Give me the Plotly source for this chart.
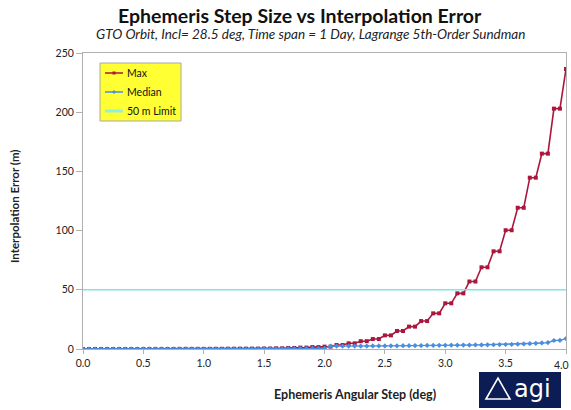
import plotly.graph_objects as go

# ---- data ----
step_deg = [0.0, 0.05, 0.1, 0.15, 0.2, 0.25, 0.3, 0.35, 0.4, 0.45,
            0.5, 0.55, 0.6, 0.65, 0.7, 0.75, 0.8, 0.85, 0.9, 0.95,
            1.0, 1.05, 1.1, 1.15, 1.2, 1.25, 1.3, 1.35, 1.4, 1.45,
            1.5, 1.55, 1.6, 1.65, 1.7, 1.75, 1.8, 1.85, 1.9, 1.95,
            2.0, 2.05, 2.1, 2.15, 2.2, 2.25, 2.3, 2.35, 2.4, 2.45,
            2.5, 2.55, 2.6, 2.65, 2.7, 2.75, 2.8, 2.85, 2.9, 2.95,
            3.0, 3.05, 3.1, 3.15, 3.2, 3.25, 3.3, 3.35, 3.4, 3.45,
            3.5, 3.55, 3.6, 3.65, 3.7, 3.75, 3.8, 3.85, 3.9, 3.95,
            4.0]

max_err = [0.0, 0.0, 0.0, 0.0, 0.0, 0.0, 0.0, 0.0, 0.0, 0.0,
           0.05, 0.05, 0.05, 0.05, 0.05, 0.05, 0.1, 0.1, 0.1, 0.1,
           0.1, 0.1, 0.15, 0.15, 0.2, 0.2, 0.25, 0.25, 0.3, 0.3,
           0.4, 0.4, 0.6, 0.6, 0.9, 0.9, 1.2, 1.2, 1.6, 1.6,
           2.0, 2.0, 3.4, 3.4, 4.8, 4.8, 6.6, 6.6, 8.4, 8.4,
           11.5, 11.5, 15.2, 15.2, 18.9, 18.9, 23.6, 23.6, 30.1, 30.1,
           38.6, 38.6, 47.0, 47.0, 57.0, 57.0, 69.0, 69.0, 82.5, 82.5,
           100.3, 100.3, 119.3, 119.3, 144.7, 144.7, 165.0, 165.0, 203.0, 203.0,
           236.5]

median_err = [0.0, 0.0, 0.0, 0.0, 0.0, 0.0, 0.0, 0.0, 0.0, 0.0,
              0.0, 0.0, 0.0, 0.0, 0.0, 0.0, 0.0, 0.0, 0.0, 0.0,
              0.0, 0.0, 0.0, 0.0, 0.05, 0.05, 0.1, 0.1, 0.1, 0.1,
              0.15, 0.15, 0.2, 0.2, 0.3, 0.3, 0.4, 0.4, 0.5, 0.5,
              0.5, 2.4, 2.5, 2.5, 2.5, 2.5, 2.5, 2.5, 2.6, 2.6,
              2.6, 2.7, 2.7, 2.8, 2.8, 2.9, 2.9, 3.0, 3.0, 3.1,
              3.1, 3.2, 3.2, 3.3, 3.3, 3.4, 3.4, 3.5, 3.6, 3.7,
              3.8, 3.9, 4.1, 4.3, 4.5, 4.8, 5.1, 5.4, 7.2, 7.3,
              8.8]

limit_x = [0.0, 4.0]
limit_y = [50, 50]

series_names = ["Max", "Median", "50 m Limit"]
series_colors = ["#ab173c", "#4a8ee0", "#8ff0dc"]

y_ticks = [0, 50, 100, 150, 200, 250]
x_ticks = [0.0, 0.5, 1.0, 1.5, 2.0, 2.5, 3.0, 3.5, 4.0]
x_tick_text = ["0.0", "0.5", "1.0", "1.5", "2.0", "2.5", "3.0", "3.5", "4.0"]

FONT = "Lato, 'Open Sans', sans-serif"

fig = go.Figure()
fig.add_trace(go.Scatter(
    x=step_deg, y=max_err, name=series_names[0], mode="lines+markers",
    line=dict(color=series_colors[0], width=1.6),
    marker=dict(symbol="square", size=4, color=series_colors[0])))
fig.add_trace(go.Scatter(
    x=step_deg, y=median_err, name=series_names[1], mode="lines+markers",
    line=dict(color=series_colors[1], width=1.4),
    marker=dict(symbol="diamond", size=4, color=series_colors[1])))
fig.add_trace(go.Scatter(
    x=limit_x, y=limit_y, name=series_names[2], mode="lines",
    line=dict(color="#7fe6e6", width=1.5)))

# plot area pixel geometry
W, H = 571, 410
L, R, T, B = 83, 5, 53, 61
pw = W - L - R
ph = H - T - B

def px(xp):
    return (xp - L) / pw

def py(yp):
    return (H - B - yp) / ph

shapes = [
    # legend box
    dict(type="rect", xref="paper", yref="paper",
         x0=px(100), x1=px(181), y0=py(121), y1=py(63),
         fillcolor="#ffff33", line=dict(color="#a8a8a8", width=1), layer="above"),
    # AGI logo box
    dict(type="rect", xref="paper", yref="paper",
         x0=px(479), x1=px(561), y0=py(408), y1=py(372),
         fillcolor="#0c1d55", line=dict(color="#0c1d55", width=0),
         layer="above"),
    dict(type="path", xref="paper", yref="paper",
         path=f"M {px(486)},{py(399)} L {px(498)},{py(378)} L {px(510)},{py(399)} Z",
         fillcolor="rgba(0,0,0,0)", line=dict(color="white", width=1.6),
         layer="above"),
]
annotations = []
leg_y = [73, 92, 111]
for i, (nm, col) in enumerate(zip(series_names, series_colors)):
    yy = leg_y[i]
    shapes.append(dict(type="line", xref="paper", yref="paper",
                       x0=px(105), x1=px(123), y0=py(yy), y1=py(yy),
                       line=dict(color=col, width=3 if i == 2 else 1.5),
                       layer="above"))
    if i == 0:
        shapes.append(dict(type="rect", xref="paper", yref="paper",
                           x0=px(112.5), x1=px(115.5), y0=py(yy + 1.5), y1=py(yy - 1.5),
                           fillcolor=col, line=dict(color=col, width=0), layer="above"))
    elif i == 1:
        shapes.append(dict(type="path", xref="paper", yref="paper",
                           path=f"M {px(112)},{py(yy)} L {px(114)},{py(yy-2)} L {px(116)},{py(yy)} L {px(114)},{py(yy+2)} Z",
                           fillcolor=col, line=dict(color=col, width=0), layer="above"))
    annotations.append(dict(text=nm, xref="paper", yref="paper",
                            x=px(125), y=py(yy), xanchor="left", yanchor="middle",
                            showarrow=False,
                            font=dict(family=FONT, size=10.5, color="#111111")))

annotations += [
    dict(text="<b>Ephemeris Step Size vs Interpolation Error</b>",
         xref="paper", yref="paper", x=px(300), y=py(15),
         xanchor="center", yanchor="middle", showarrow=False,
         font=dict(family=FONT, size=19.5, color="#111111")),
    dict(text="<i>GTO Orbit, Incl= 28.5 deg, Time span = 1 Day, Lagrange 5th-Order Sundman</i>",
         xref="paper", yref="paper", x=px(310), y=py(34),
         xanchor="center", yanchor="middle", showarrow=False,
         font=dict(family=FONT, size=13.5, color="#222222")),
    dict(text="<b>Ephemeris Angular Step (deg)</b>",
         xref="paper", yref="paper", x=px(355), y=py(394),
         xanchor="center", yanchor="middle", showarrow=False,
         font=dict(family=FONT, size=12.5, color="#222222")),
    dict(text="<b>Interpolation Error (m)</b>",
         xref="paper", yref="paper", x=px(14), y=py(207), textangle=-90,
         xanchor="center", yanchor="middle", showarrow=False,
         font=dict(family=FONT, size=11.5, color="#222222")),
    # last x tick label, kept just inside the page edge
    dict(text=x_tick_text[-1], xref="paper", yref="paper", x=px(571), y=py(357),
         xanchor="right", yanchor="top", showarrow=False,
         font=dict(family=FONT, size=10.5, color="#222222")),
    dict(text="agi",
         xref="paper", yref="paper", x=px(532), y=py(389),
         xanchor="center", yanchor="middle", showarrow=False,
         font=dict(family="'DejaVu Sans', sans-serif", size=24, color="white")),
]

fig.update_layout(
    width=W, height=H,
    margin=dict(l=L, r=R, t=T, b=B, autoexpand=False),
    paper_bgcolor="white", plot_bgcolor="white",
    font=dict(family=FONT, size=10, color="#222222"),
    showlegend=False,
    xaxis=dict(range=[0, 4], tickvals=x_ticks, ticktext=x_tick_text[:-1] + [""],
               showgrid=False, zeroline=False, showline=True,
               linecolor="#b0b0b0", linewidth=1, mirror=True,
               ticks="outside", ticklen=4, tickcolor="#b0b0b0",
               tickfont=dict(family=FONT, size=10.5, color="#222222")),
    yaxis=dict(range=[0, 250], tickvals=y_ticks,
               showgrid=False, zeroline=False, showline=True,
               linecolor="#b0b0b0", linewidth=1, mirror=True,
               ticks="outside", ticklen=6, tickcolor="#b0b0b0",
               tickfont=dict(family=FONT, size=10.5, color="#222222")),
    annotations=annotations,
    shapes=shapes,
)

fig.write_html("out.html", config={"displayModeBar": False},
               post_script="document.body.style.margin='0';document.body.style.overflow='hidden';")
